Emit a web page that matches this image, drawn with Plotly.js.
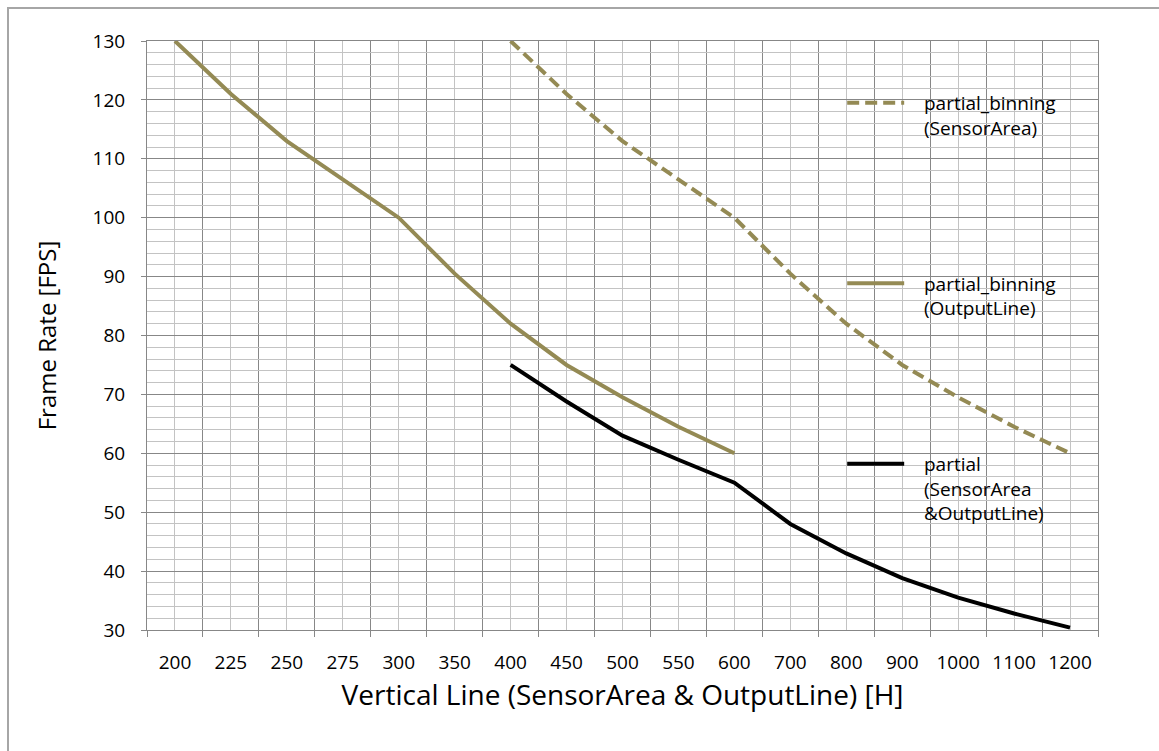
<!DOCTYPE html>
<html>
<head>
<meta charset="utf-8">
<script src="https://cdn.plot.ly/plotly-3.0.1.min.js"></script>
<style>
  html, body { margin: 0; padding: 0; background: #fff; }
  #wrap { position: relative; width: 1159px; height: 751px; overflow: hidden; }
  #chart { position: absolute; left: 0; top: 0; width: 1159px; height: 751px; }
  #frame { position: absolute; left: 7px; top: 7px; width: 1400px; height: 1000px;
           border: 2px solid #a6a6a6; pointer-events: none; box-sizing: border-box; }
</style>
</head>
<body>
<div id="wrap">
  <div id="chart"></div>
  <div id="frame"></div>
</div>
<script>
// Category labels of the x axis (vertical lines [H])
const categories = ['200','225','250','275','300','350','400','450','500','550','600',
                    '700','800','900','1000','1100','1200'];

// partial_binning (SensorArea) – dashed olive
const binSensorX = ['400','450','500','550','600','700','800','900','1000','1100','1200'];
const binSensorY = [130, 121, 113, 106.5, 100, 90.5, 82, 75, 69.5, 64.5, 60];

// partial_binning (OutputLine) – solid olive
const binOutputX = ['200','225','250','275','300','350','400','450','500','550','600'];
const binOutputY = [130, 121, 113, 106.5, 100, 90.5, 82, 75, 69.5, 64.5, 60];

// partial (SensorArea & OutputLine) – black
const partialX = ['400','450','500','550','600','700','800','900','1000','1100','1200'];
const partialY = [75, 68.8, 63, 58.9, 55, 48, 43, 38.8, 35.5, 32.8, 30.4];

const idx = labels => labels.map(l => categories.indexOf(l));

const OLIVE = '#948a54';
const DARKGRID = '#878787';
const LIGHTGRID = '#c3c3c3';
const FONT = '"Open Sans", Lato, sans-serif';
const PAD = '&nbsp;&nbsp;&nbsp;';

const traces = [
  { x: idx(binSensorX), y: binSensorY, type: 'scatter', mode: 'lines',
    name: PAD + 'partial_binning<br>' + PAD + '(SensorArea)', legendgroup: 'a',
    line: { color: OLIVE, width: 4, dash: '12px,6px' } },
  { x: idx(binOutputX), y: binOutputY, type: 'scatter', mode: 'lines',
    name: PAD + 'partial_binning<br>' + PAD + '(OutputLine)', legendgroup: 'b',
    line: { color: OLIVE, width: 4 } },
  { x: idx(partialX), y: partialY, type: 'scatter', mode: 'lines',
    name: PAD + 'partial<br>' + PAD + '(SensorArea<br>' + PAD + '&OutputLine)', legendgroup: 'c',
    line: { color: '#000000', width: 4 } }
];

const layout = {
  width: 1159, height: 751,
  margin: { l: 147, r: 61, t: 41, b: 121 },
  paper_bgcolor: '#ffffff', plot_bgcolor: '#ffffff',
  font: { family: FONT, size: 19, color: '#000' },
  showlegend: true,
  legend: {
    x: 0.731, xanchor: 'left', y: 0.927, yanchor: 'top',
    bgcolor: 'rgba(0,0,0,0)', borderwidth: 0,
    tracegroupgap: 128, valign: 'top', itemwidth: 57,
    font: { family: FONT, size: 19, color: '#000' }
  },
  xaxis: {
    type: 'linear', range: [-0.5, categories.length - 0.5],
    tickmode: 'array', tickvals: categories.map((c, i) => i), ticktext: categories,
    ticks: '', showgrid: true, gridcolor: LIGHTGRID, gridwidth: 1,
    minor: { tickmode: 'linear', tick0: 0.5, dtick: 1, showgrid: true,
             gridcolor: DARKGRID, gridwidth: 1, ticks: 'outside', ticklen: 6,
             tickcolor: DARKGRID, tickwidth: 1 },
    showline: true, linecolor: DARKGRID, linewidth: 1, mirror: true,
    zeroline: false, ticklabelstandoff: 15,
    tickfont: { family: FONT, size: 19, color: '#000' },
    title: { text: 'Vertical Line (SensorArea & OutputLine) [H]',
             font: { family: FONT, size: 28, color: '#000' }, standoff: 11 }
  },
  yaxis: {
    range: [30, 130], tickmode: 'linear', tick0: 30, dtick: 10,
    ticks: 'outside', ticklen: 5, tickcolor: DARKGRID, tickwidth: 1,
    showgrid: true, gridcolor: DARKGRID, gridwidth: 1,
    minor: { tickmode: 'linear', tick0: 30, dtick: 2, showgrid: true,
             gridcolor: LIGHTGRID, gridwidth: 1 },
    showline: true, linecolor: DARKGRID, linewidth: 1, mirror: true,
    zeroline: false, ticklabelstandoff: 12,
    tickfont: { family: FONT, size: 19, color: '#000' },
    title: { text: 'Frame Rate [FPS]', font: { family: FONT, size: 24, color: '#000' },
             standoff: 29 }
  }
};

Plotly.newPlot('chart', traces, layout, { displayModeBar: false, staticPlot: true });
</script>
</body>
</html>
